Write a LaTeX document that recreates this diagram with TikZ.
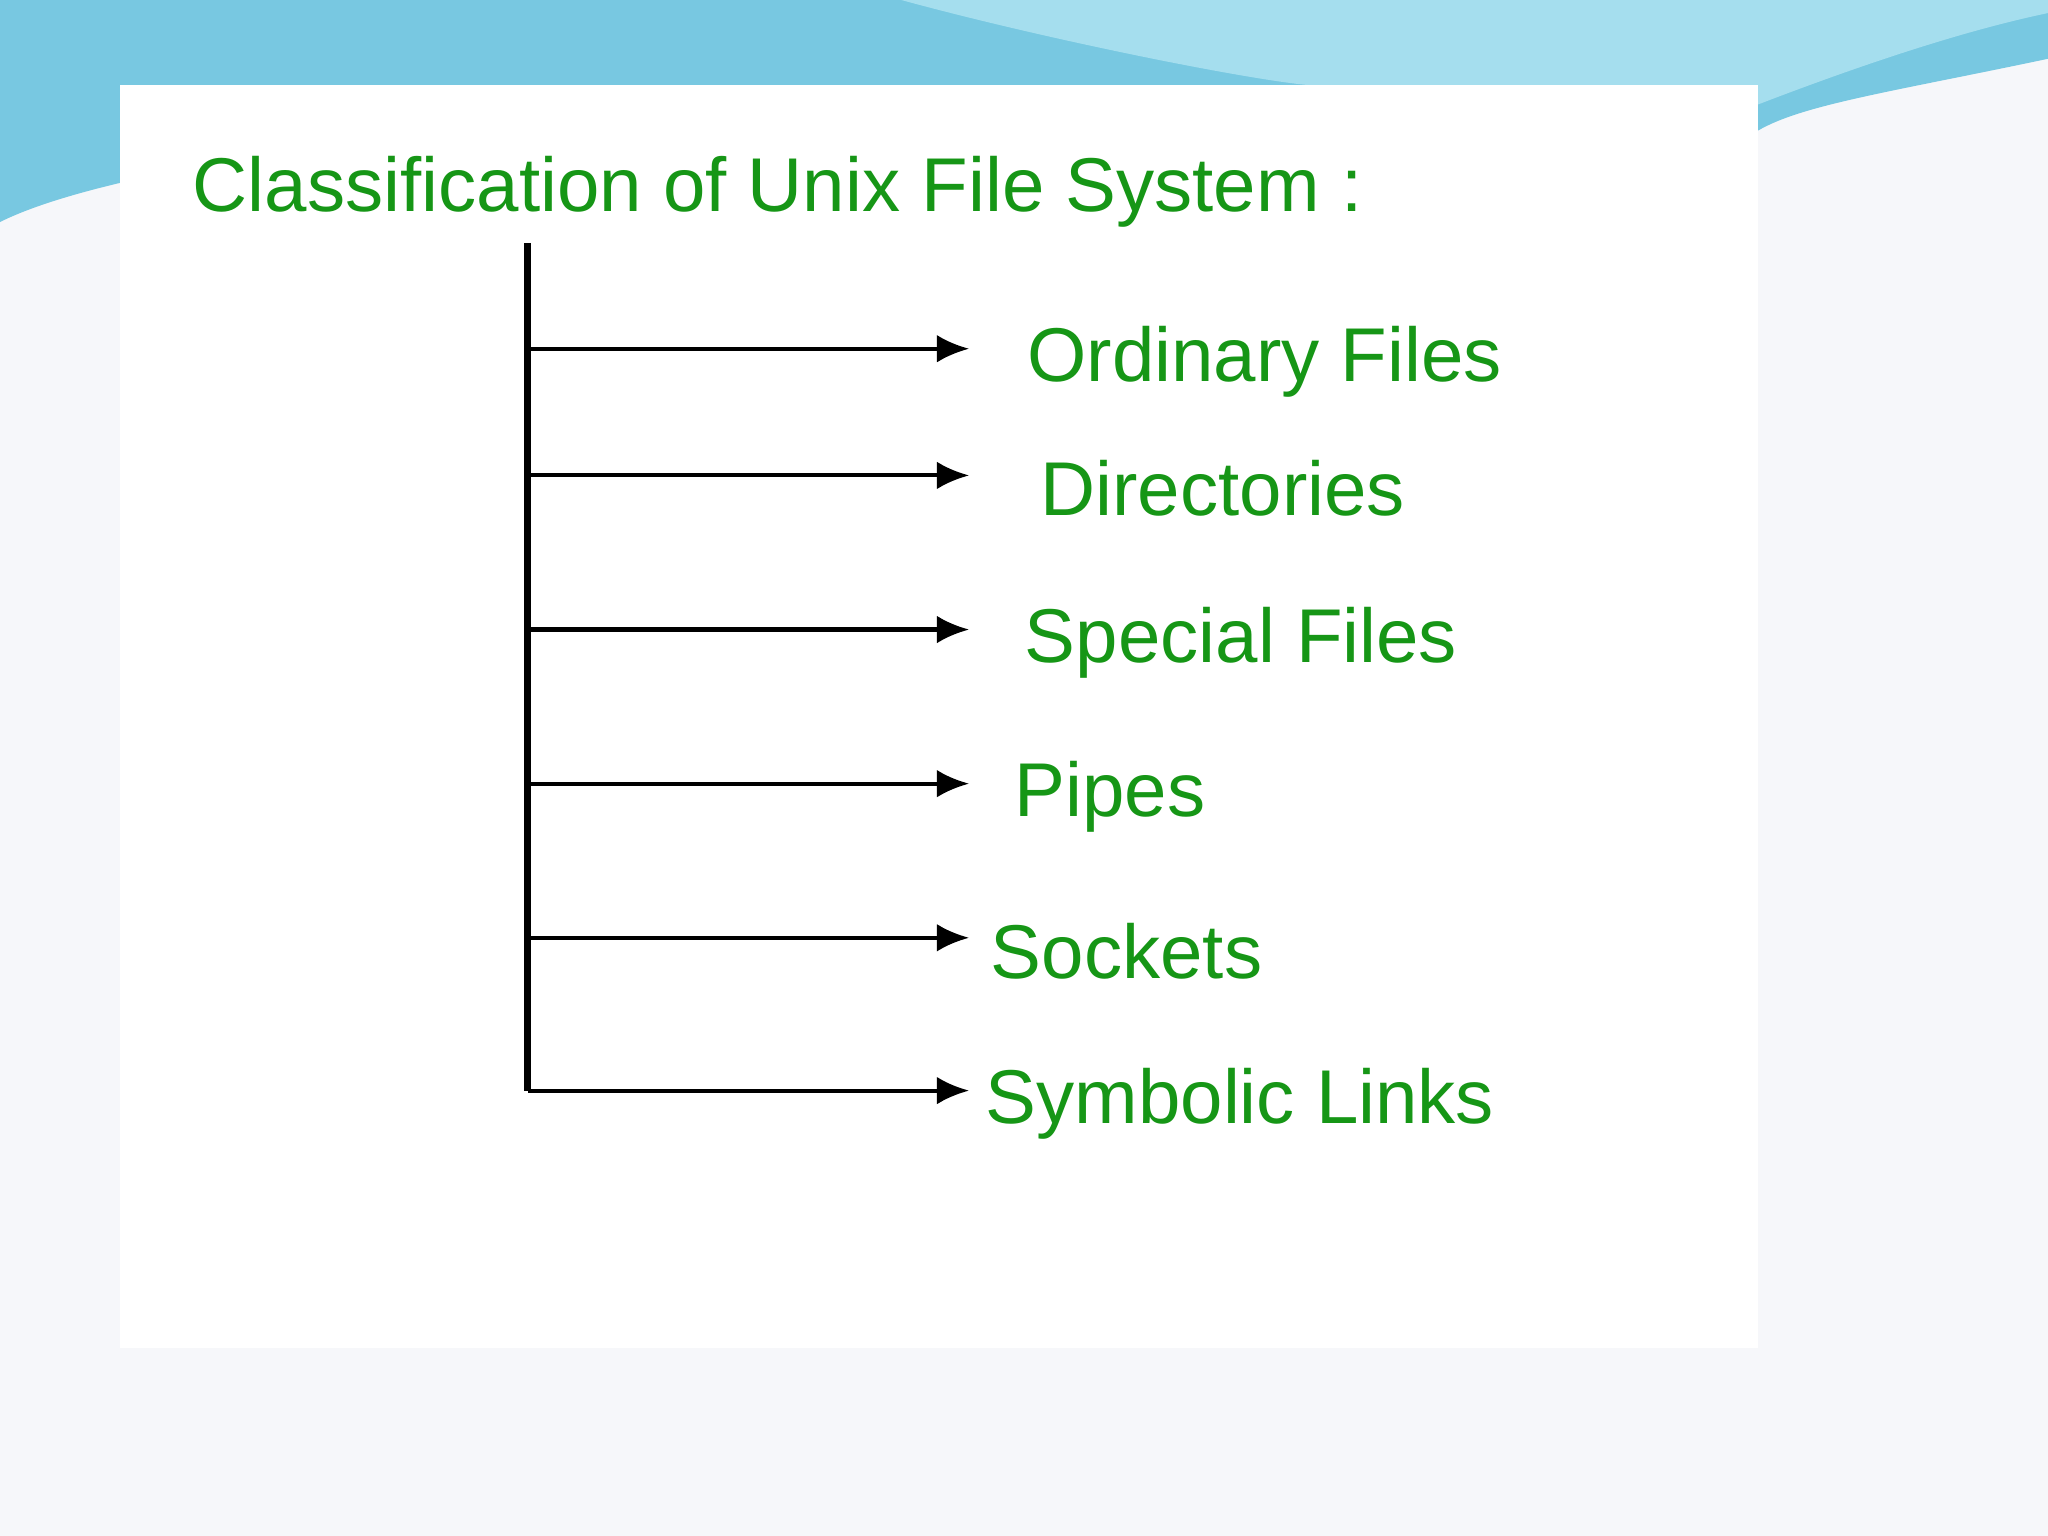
\documentclass[tikz,border=0pt]{standalone}
\usepackage{fontspec}
\setmainfont{Liberation Sans}
\usetikzlibrary{arrows.meta}
\definecolor{grn}{RGB}{22,150,22}
\definecolor{bgc}{RGB}{246,247,250}
\definecolor{sky}{RGB}{120,200,225}
\definecolor{sky2}{RGB}{165,222,238}
\tikzset{lbl/.style={anchor=west,text=grn,font=\fontsize{16.6}{20}\selectfont,inner sep=0pt},
arr/.style={-{Latex[length=7pt,width=6pt]},line width=0.9pt}}
\begin{document}
\begin{tikzpicture}[x=0.01cm,y=-0.01cm]
\fill[bgc] (0,0) rectangle (1568,1176);
\useasboundingbox (0,0) rectangle (1568,1176);
% top wave
\fill[sky] (0,0) -- (1568,0) -- (1568,45) .. controls (1450,70) and (1380,80) .. (1346,100) -- (1346,65) -- (92,65) -- (92,140) .. controls (50,150) and (20,160) .. (0,170) -- cycle;
\fill[sky2] (690,0) .. controls (800,30) and (950,60) .. (1000,65) -- (1346,65) -- (1346,80) .. controls (1450,40) and (1520,20) .. (1568,10) -- (1568,0) -- cycle;
\fill[white] (92,65) rectangle (1346,1032);
% title
\node[lbl] (title) at (147,147) {Classification of Unix File System :};
\coordinate (top) at (404,186);
\coordinate (bot) at (404,835);
\draw[line width=1.6pt] (top) -- (bot);
\foreach \n/\y/\lx/\t in {o/267/786/Ordinary Files,d/364/796/Directories,s/482/784/Special Files,p/600/776/Pipes,k/718/758/Sockets,l/835/754/Symbolic Links}{
  \coordinate (b\n) at (404,\y);
  \coordinate (e\n) at (742,\y);
  \node[lbl] (\n) at (\lx,\y+10) {\t};
  \draw[arr] (b\n) -- (e\n);
}
\end{tikzpicture}
\end{document}
